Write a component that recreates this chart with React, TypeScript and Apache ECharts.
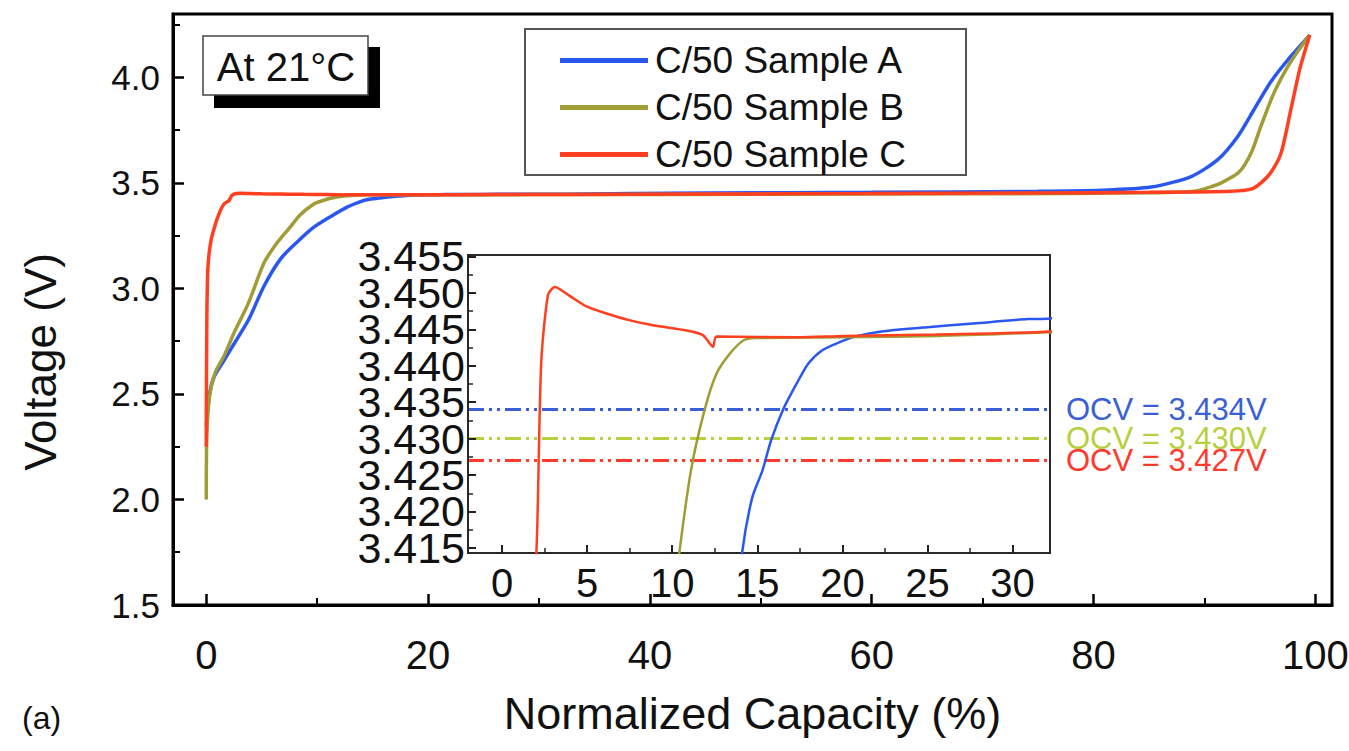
import React, { useEffect, useRef } from "react";
import * as echarts from "echarts";

// Discharge/charge curves: [normalized capacity %, voltage V]
const sampleNames = ["C/50 Sample A", "C/50 Sample B", "C/50 Sample C"];
const sampleColors = ["#2a57ee", "#a09c36", "#ff3f1f"];

const sampleA: [number, number][] = [
  [0, 2.35], [0.3, 2.5], [0.7, 2.58], [1.5, 2.65], [2.3, 2.72], [3.8, 2.85],
  [5.2, 3.01], [6.7, 3.14], [8.2, 3.22], [9.7, 3.29], [11.2, 3.34], [12.7, 3.385],
  [14.1, 3.4142], [14.7, 3.4219], [15.3, 3.4256], [15.8, 3.4297], [16.5, 3.4339],
  [17.3, 3.4375], [18.0, 3.4403], [18.8, 3.4421], [19.9, 3.4433], [20.9, 3.4441],
  [22.3, 3.4447], [25.0, 3.4453], [27.7, 3.4458], [30.9, 3.4464], [32.2, 3.4465],
  [45, 3.452], [60, 3.455], [75, 3.46], [80.7, 3.465], [85.2, 3.48], [88.8, 3.53],
  [91.2, 3.61], [93.0, 3.72], [94.5, 3.85], [96.0, 3.98], [97.8, 4.1], [99.5, 4.2],
];

const sampleB: [number, number][] = [
  [0, 2.0], [0.05, 2.3], [0.3, 2.49], [0.8, 2.6], [1.6, 2.68], [2.6, 2.8],
  [3.8, 2.93], [5.2, 3.12], [6.3, 3.21], [7.4, 3.28], [8.5, 3.35], [9.7, 3.4],
  [10.4, 3.414], [11.1, 3.4256], [11.9, 3.4339], [12.6, 3.4389], [13.4, 3.4417],
  [14.2, 3.4435], [14.9, 3.4438], [20, 3.4439], [25.8, 3.4441], [32.2, 3.4446],
  [50, 3.446], [70, 3.448], [85, 3.453], [89.1, 3.46], [90.5, 3.48], [91.5, 3.5],
  [93.1, 3.55], [94.2, 3.64], [95.1, 3.77], [96.3, 3.93], [97.5, 4.05], [98.5, 4.13],
  [99.5, 4.2],
];

const sampleC: [number, number][] = [
  [0, 2.25], [0.02, 2.6], [0.06, 2.9], [0.15, 3.1], [0.4, 3.22], [0.8, 3.3],
  [1.2, 3.36], [1.6, 3.4], [2.03, 3.415], [2.3, 3.4403], [2.7, 3.4497], [3.1, 3.4508],
  [3.9, 3.4497], [5.0, 3.4481], [6.1, 3.4472], [7.4, 3.4463], [8.8, 3.4456],
  [10.7, 3.4449], [11.8, 3.4442], [12.4, 3.4426], [12.6, 3.444], [17.4, 3.4439],
  [20.1, 3.4441], [25.5, 3.4443], [32.2, 3.4447], [45, 3.447], [60, 3.449],
  [75, 3.452], [85, 3.455], [92.4, 3.46], [94.2, 3.47], [95.1, 3.5], [96.0, 3.55],
  [96.9, 3.64], [97.8, 3.85], [98.6, 4.04], [99.5, 4.2],
];

const samples = [sampleA, sampleB, sampleC];

// Open-circuit voltages shown as dash-dot lines in the inset
const ocvValues = [3.434, 3.43, 3.427];
const ocvColors = ["#3b5fd6", "#b6d03e", "#ff3a2e"];

// Tick positions
const mainXMajor = [0, 20, 40, 60, 80, 100];
const mainXMinor = [10, 30, 50, 70, 90];
const mainYMajor = [1.5, 2.0, 2.5, 3.0, 3.5, 4.0];
const mainYMinor = [1.75, 2.25, 2.75, 3.25, 3.75, 4.25];
const insetXMajor = [0, 5, 10, 15, 20, 25, 30];
const insetXMinor = [2.5, 7.5, 12.5, 17.5, 22.5, 27.5];
const insetYMajor = [3.415, 3.42, 3.425, 3.43, 3.435, 3.44, 3.445, 3.45, 3.455];
const insetYMinor = [3.4175, 3.4225, 3.4275, 3.4325, 3.4375, 3.4425, 3.4475, 3.4525];

const SANS = "'Liberation Sans', Arial, Helvetica, sans-serif";

export default function App() {
  const ref = useRef<HTMLDivElement>(null);

  useEffect(() => {
    if (!ref.current) return;
    const chart = echarts.init(ref.current, undefined, { renderer: "svg" });

    const mainX = { min: -3, max: 101.5 };
    const mainY = { min: 1.5, max: 4.3 };
    const insX = { min: -2, max: 32.2 };
    const insY = { min: 3.4143, max: 3.4552 };

    // inset tick labels are tightly packed; alternate them over two axes
    const insetYLabelsA = insetYMajor.filter((_, i) => i % 2 === 0);
    const insetYLabelsB = insetYMajor.filter((_, i) => i % 2 === 1);

    const mainSeries = samples.map((d, i) => ({
      name: sampleNames[i],
      type: "line",
      xAxisIndex: 0,
      yAxisIndex: 0,
      data: d,
      symbol: "none",
      smooth: 0.25,
      color: sampleColors[i],
      lineStyle: { width: 3.5, color: sampleColors[i] },
      z: 3,
    }));

    const insetSeries = samples.map((d, i) => ({
      name: sampleNames[i],
      type: "line",
      xAxisIndex: 2,
      yAxisIndex: 2,
      data: d,
      symbol: "none",
      smooth: 0.25,
      color: sampleColors[i],
      lineStyle: { width: 2.5, color: sampleColors[i] },
      z: 6,
      markLine: {
        silent: true,
        symbol: ["none", "none"],
        precision: 3,
        animation: false,
        data: [{ yAxis: ocvValues[i] }],
        lineStyle: {
          color: ocvColors[i],
          width: 3,
          type: [16, 5, 3, 5, 3, 5],
        },
        label: {
          show: true,
          position: "end",
          distance: 16,
          formatter: `OCV = ${ocvValues[i].toFixed(3)}V`,
          color: ocvColors[i],
          fontSize: 31,
          lineHeight: 26,
          fontFamily: SANS,
        },
      },
    }));

    const insetYLabelAxis = (labels: number[], showLine: boolean) => ({
      gridIndex: 1, type: "value", ...insY, position: "left",
      axisLine: { show: showLine, onZero: false, lineStyle: { color: "#2a2a2a", width: 2 } },
      axisTick: {
        show: showLine, inside: true, length: 8,
        lineStyle: { color: "#222", width: 2 }, customValues: insetYMajor,
      },
      axisLabel: {
        customValues: labels, fontSize: 43, fontFamily: SANS, color: "#111", margin: 3,
        showMinLabel: true, showMaxLabel: true,
        formatter: (v: number) => v.toFixed(3),
      },
      splitLine: { show: false },
      z: 6,
    });

    const option: any = {
      animation: false,
      backgroundColor: "#fff",
      grid: [
        {
          left: 173, top: 14, right: 17, bottom: 146,
          show: true, borderColor: "#000", borderWidth: 3,
          outerBoundsMode: "none",
        },
        {
          left: 468, top: 255, width: 582, height: 298,
          show: true, backgroundColor: "#fff", borderColor: "#2a2a2a", borderWidth: 2,
          outerBoundsMode: "none", z: 5,
        },
      ],
      xAxis: [
        {
          gridIndex: 0, type: "value", ...mainX, position: "bottom",
          axisLine: { show: true, onZero: false, lineStyle: { color: "#000", width: 3 } },
          axisTick: { show: true, inside: true, length: 11, lineStyle: { color: "#000", width: 2.5 }, customValues: mainXMajor },
          axisLabel: {
            customValues: mainXMajor, fontSize: 40, fontFamily: SANS, color: "#111", margin: 30,
            showMinLabel: true, showMaxLabel: true,
          },
          splitLine: { show: false },
          name: "Normalized Capacity (%)",
          nameLocation: "middle",
          nameGap: 86,
          nameTextStyle: { fontSize: 45, fontFamily: SANS, color: "#111" },
        },
        {
          gridIndex: 0, type: "value", ...mainX, position: "bottom",
          axisLine: { show: false, onZero: false },
          axisTick: { show: true, inside: true, length: 7, lineStyle: { color: "#000", width: 2 }, customValues: mainXMinor },
          axisLabel: { show: false },
          splitLine: { show: false },
        },
        {
          gridIndex: 1, type: "value", ...insX, position: "bottom",
          axisLine: { show: true, onZero: false, lineStyle: { color: "#2a2a2a", width: 2 } },
          axisTick: { show: true, inside: true, length: 8, lineStyle: { color: "#222", width: 2 }, customValues: insetXMajor },
          axisLabel: {
            customValues: insetXMajor, fontSize: 40, fontFamily: SANS, color: "#111", margin: 10,
            showMinLabel: true, showMaxLabel: true,
          },
          splitLine: { show: false },
          z: 6,
        },
        {
          gridIndex: 1, type: "value", ...insX, position: "bottom",
          axisLine: { show: false, onZero: false },
          axisTick: { show: true, inside: true, length: 5, lineStyle: { color: "#222", width: 1.5 }, customValues: insetXMinor },
          axisLabel: { show: false },
          splitLine: { show: false },
          z: 6,
        },
      ],
      yAxis: [
        {
          gridIndex: 0, type: "value", ...mainY, position: "left",
          axisLine: { show: true, onZero: false, lineStyle: { color: "#000", width: 3 } },
          axisTick: { show: true, inside: true, length: 11, lineStyle: { color: "#000", width: 2.5 }, customValues: mainYMajor },
          axisLabel: {
            customValues: mainYMajor, fontSize: 35, fontFamily: SANS, color: "#111", margin: 13,
            showMinLabel: true, showMaxLabel: true,
            formatter: (v: number) => v.toFixed(1),
          },
          splitLine: { show: false },
        },
        {
          gridIndex: 0, type: "value", ...mainY, position: "left",
          axisLine: { show: false, onZero: false },
          axisTick: { show: true, inside: true, length: 7, lineStyle: { color: "#000", width: 2 }, customValues: mainYMinor },
          axisLabel: { show: false },
          splitLine: { show: false },
        },
        insetYLabelAxis(insetYLabelsA, true),
        {
          gridIndex: 1, type: "value", ...insY, position: "left",
          axisLine: { show: false, onZero: false },
          axisTick: { show: true, inside: true, length: 5, lineStyle: { color: "#222", width: 1.5 }, customValues: insetYMinor },
          axisLabel: { show: false },
          splitLine: { show: false },
          z: 6,
        },
        insetYLabelAxis(insetYLabelsB, false),
      ],
      legend: {
        data: sampleNames,
        orient: "vertical",
        left: 560,
        top: 37,
        padding: 0,
        itemGap: 0,
        itemWidth: 88,
        itemHeight: 5,
        icon: "rect",
        z: 10,
        textStyle: { fontSize: 37, fontFamily: SANS, color: "#111", lineHeight: 47, padding: [0, 0, 0, 2] },
      },
      graphic: [
        // legend frame
        {
          type: "rect", z: 3,
          shape: { x: 525, y: 29, width: 441, height: 146 },
          style: { fill: "#fff", stroke: "#555", lineWidth: 2 },
        },
        // temperature tag with drop shadow
        {
          type: "rect", z: 20,
          shape: { x: 214, y: 47, width: 166, height: 61 },
          style: { fill: "#000" },
        },
        {
          type: "rect", z: 21,
          shape: { x: 203, y: 36, width: 165, height: 59 },
          style: { fill: "#fff", stroke: "#444", lineWidth: 1.5 },
        },
        {
          type: "text", z: 22, x: 286, y: 67,
          style: {
            text: "At 21°C", fontSize: 40, fontFamily: SANS, fill: "#111",
            textAlign: "center", textVerticalAlign: "middle",
          },
        },
        {
          type: "text", z: 22, x: 40, y: 362, rotation: Math.PI / 2,
          style: {
            text: "Voltage (V)", fontSize: 44, fontFamily: SANS, fill: "#111",
            textAlign: "center", textVerticalAlign: "middle",
          },
        },
        {
          type: "text", z: 22, x: 22, y: 718,
          style: {
            text: "(a)", fontSize: 32, fontFamily: SANS, fill: "#111",
            textAlign: "left", textVerticalAlign: "middle",
          },
        },
      ],
      series: [...mainSeries, ...insetSeries],
    };

    chart.setOption(option);
    return () => chart.dispose();
  }, []);

  return (
    <div
      ref={ref}
      style={{ position: "fixed", left: 0, top: 0, width: 1349, height: 751, background: "#fff" }}
    />
  );
}
